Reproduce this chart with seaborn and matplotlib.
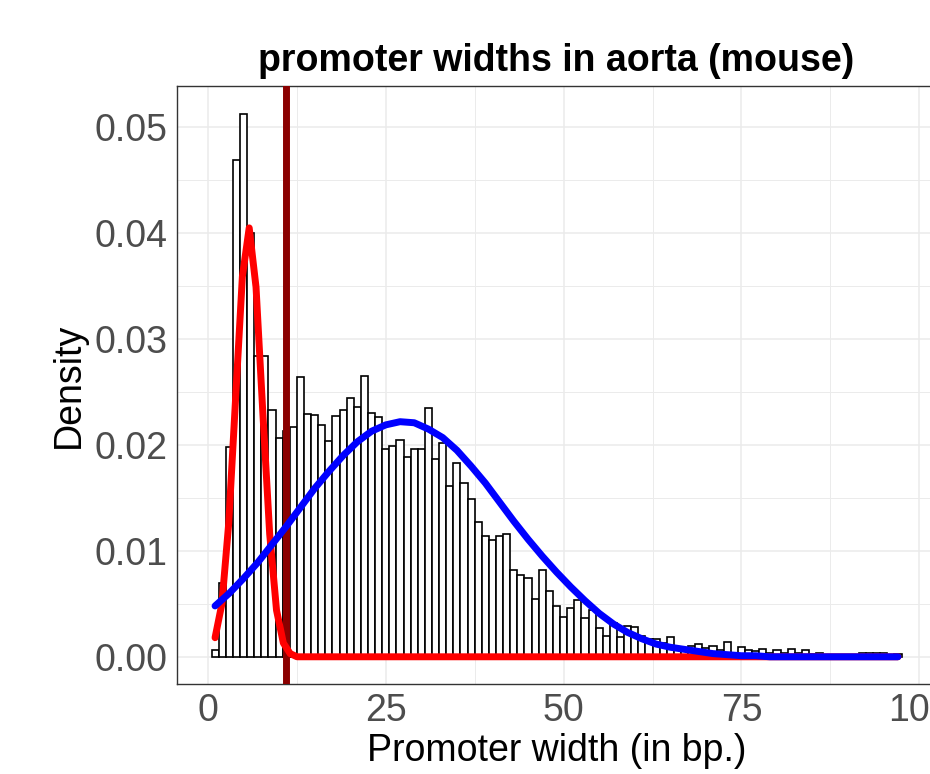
import matplotlib
matplotlib.use('Agg')
import matplotlib.pyplot as plt
from matplotlib.ticker import MultipleLocator, FormatStrFormatter
import seaborn as sns

# --- DATA ---
# histogram: density of promoter widths, one bin per bp, bins centred on 1..97
bin_centers = list(range(1, 98))
density = [
    0.0006, 0.0070, 0.0198, 0.0469, 0.0513, 0.0400, 0.0284, 0.0284, 0.0233, 0.0207,
    0.0213, 0.0217, 0.0264, 0.0229, 0.0228, 0.0219, 0.0204, 0.0227, 0.0233, 0.0244,
    0.0236, 0.0265, 0.0230, 0.0226, 0.0196, 0.0199, 0.0205, 0.0189, 0.0196, 0.0196,
    0.0235, 0.0187, 0.0202, 0.0161, 0.0183, 0.0164, 0.0149, 0.0127, 0.0114, 0.0110,
    0.0114, 0.0116, 0.0082, 0.0077, 0.0074, 0.0055, 0.0082, 0.0062, 0.0048, 0.0038,
    0.0046, 0.0054, 0.0037, 0.0044, 0.0027, 0.0020, 0.0032, 0.0019, 0.0029, 0.0028,
    0.0020, 0.0017, 0.0017, 0.0013, 0.0019, 0.0009, 0.0008, 0.0010, 0.0012, 0.0008,
    0.0010, 0.0006, 0.0014, 0.0004, 0.0009, 0.0006, 0.0005, 0.0007, 0.0004, 0.0006,
    0.0004, 0.0007, 0.0004, 0.0006, 0.0003, 0.0004, 0.0002, 0.0002, 0.0001, 0.0002,
    0.0001, 0.0004, 0.0004, 0.0004, 0.0004, 0.0002, 0.0003,
]

# fitted component 1 (narrow, red)
red_x = [1, 1.96, 2.92, 3.88, 4.84, 5.8, 6.76, 7.72, 8.68, 9.64, 10.6, 11.56, 12.52, 13.48, 97]
red_y = [0.0018, 0.0050, 0.0126, 0.0243, 0.0359, 0.0405, 0.0349, 0.0230, 0.0116, 0.0044,
         0.0013, 0.0003, 0.0000, 0.0000, 0.0000]

# fitted component 2 (broad, blue)
blue_x = list(range(1, 98, 2))
blue_y = [
    0.0048, 0.0060, 0.0074, 0.0089, 0.0106, 0.0123, 0.0141, 0.0159, 0.0175, 0.0190,
    0.0203, 0.0213, 0.0219, 0.0222, 0.0221, 0.0215, 0.0207, 0.0195, 0.0180, 0.0164,
    0.0146, 0.0128, 0.0111, 0.0095, 0.0080, 0.0066, 0.0053, 0.0041, 0.0031, 0.0023,
    0.0017, 0.0012, 0.0009, 0.0007, 0.0005, 0.0003, 0.0002, 0.0001, 0.0001, 0.0,
    0.0, 0.0, 0.0, 0.0, 0.0, 0.0, 0.0, 0.0, 0.0,
]

cutoff = 11

# --- PLOT ---
sns.set_theme(style='whitegrid')
plt.rcParams['font.family'] = ['Liberation Sans', 'DejaVu Sans']

fig = plt.figure(figsize=(9.3, 7.74), dpi=100)
# panel runs past the right edge, like the cropped reference
ax = fig.add_axes([177 / 930, 90 / 774, 759 / 930, 598 / 774])

sns.histplot(x=bin_centers, weights=density, binwidth=1, binrange=(0.5, 97.5),
             stat='count', color='white', edgecolor='black', linewidth=1.2,
             alpha=1, ax=ax, zorder=2)
ax.axvline(cutoff, color='#8B0000', linewidth=5, zorder=3)
sns.lineplot(x=red_x, y=red_y, color='red', linewidth=5, ax=ax, zorder=4)
sns.lineplot(x=blue_x, y=blue_y, color='blue', linewidth=5, ax=ax, zorder=5)

ax.set_xlim(-4.35, 102.35)
ax.set_ylim(-0.00257, 0.0539)
ax.xaxis.set_major_locator(MultipleLocator(25))
ax.xaxis.set_minor_locator(MultipleLocator(12.5))
ax.yaxis.set_major_locator(MultipleLocator(0.01))
ax.yaxis.set_minor_locator(MultipleLocator(0.005))
ax.xaxis.set_major_formatter(FormatStrFormatter('%d'))
ax.yaxis.set_major_formatter(FormatStrFormatter('%.2f'))

ax.set_axisbelow(True)
ax.grid(which='major', color='#EBEBEB', linewidth=1.1)
ax.grid(which='minor', color='#EBEBEB', linewidth=0.7)
ax.tick_params(which='major', labelsize=27, labelcolor='#4D4D4D', length=3.5,
               width=0.9, color='#333333', direction='out', pad=3)
ax.tick_params(which='minor', length=0)
for sp in ax.spines.values():
    sp.set_color('#333333')
    sp.set_linewidth(1.0)

ax.set_xlabel('Promoter width (in bp.)', fontsize=27, color='black', labelpad=3)
ax.set_ylabel('Density', fontsize=27, color='black', labelpad=6)
ax.set_title('promoter widths in aorta (mouse)', fontsize=27, fontweight='bold',
             color='black', pad=11)

fig.savefig('out.png', dpi=100)
